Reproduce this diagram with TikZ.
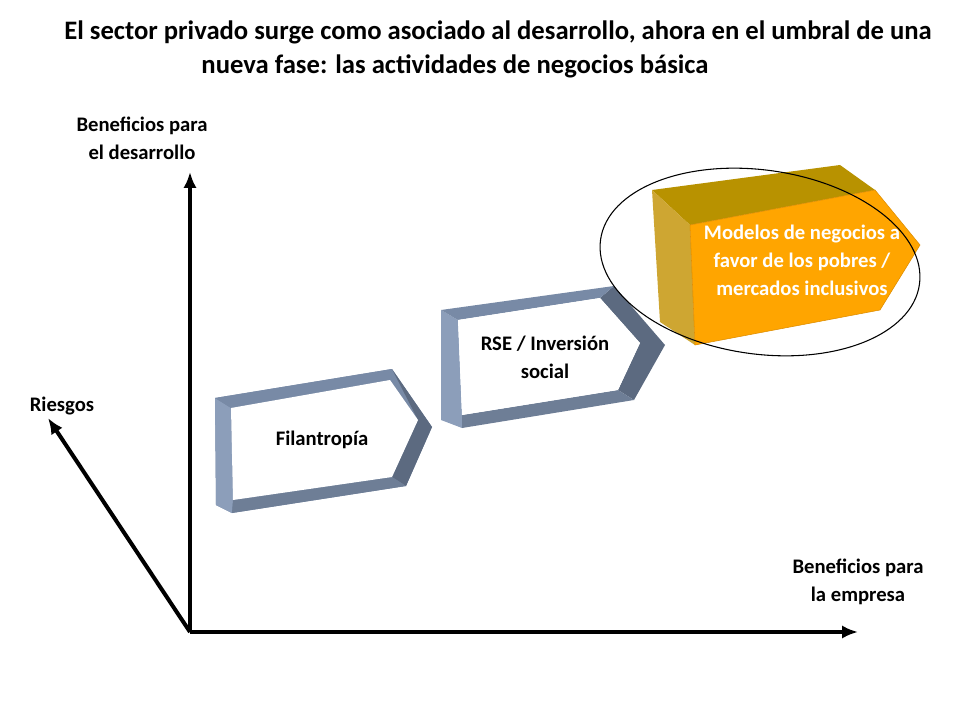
\documentclass[tikz,border=0pt]{standalone}
\usepackage{fontspec}
\setmainfont{Carlito}
\begin{document}
\begin{tikzpicture}[x=0.75pt,y=-0.75pt,
  lbl/.style={font=\bfseries\fontsize{15.5}{21}\selectfont,align=center},
  ttl/.style={font=\bfseries\fontsize{20}{24}\selectfont},
  ax/.style={line width=3pt,-{Latex[length=12pt,width=10pt]}}]
\usetikzlibrary{arrows.meta}
\useasboundingbox (0,0) rectangle (960,720);
\node[ttl] (t1) at (498,32) {El sector privado surge como asociado al desarrollo, ahora en el umbral de una};
\node[ttl] (t2) at (455,66) {nueva fase: las actividades de negocios básica};
% axes
\coordinate (o) at (190,632);
\coordinate (yt) at (190,172);
\coordinate (xt) at (858,632);
\coordinate (rt) at (48,418);
\draw[ax] (o) -- (yt);
\draw[ax] (o) -- (xt);
\draw[ax] (o) -- (rt);
\node[lbl] (ly) at (142,138) {Beneficios para\\el desarrollo};
\node[lbl] (lx) at (858,582) {Beneficios para\\la empresa};
\node[lbl] (lr) at (62,406) {Riesgos};
% Filantropia
\fill[color={rgb,255:red,120;green,138;blue,166}] (215,398)--(392,369)--(432,427)--(406,486)--(232,513)--(216,505)--cycle;
\fill[color={rgb,255:red,92;green,106;blue,128}] (392,369)--(432,427)--(406,486)--(392,477)--(418,420)--cycle;
\fill[color={rgb,255:red,140;green,158;blue,186}] (215,398)--(231,408)--(233,500)--(232,513)--(216,505)--cycle;
\fill[color={rgb,255:red,120;green,138;blue,166}] (215,398)--(392,369)--(390,380)--(231,408)--cycle;
\fill[color={rgb,255:red,110;green,126;blue,150}] (233,500)--(392,477)--(406,486)--(232,513)--cycle;
\fill[white] (231,408)--(390,380)--(418,420)--(392,477)--(233,500)--cycle;
\node[lbl] (f) at (322,440) {Filantropía};
% RSE
\fill[color={rgb,255:red,92;green,106;blue,128}] (614,286)--(665,345)--(634,400)--(618,390)--(640,343)--(600,298)--cycle;
\fill[color={rgb,255:red,140;green,158;blue,186}] (441,310)--(458,320)--(462,415)--(462,428)--(441,420)--cycle;
\fill[color={rgb,255:red,120;green,138;blue,166}] (441,310)--(614,286)--(600,298)--(458,320)--cycle;
\fill[color={rgb,255:red,110;green,126;blue,150}] (462,415)--(618,390)--(634,400)--(462,428)--cycle;
\fill[white] (458,320)--(600,298)--(640,343)--(618,390)--(462,415)--cycle;
\node[lbl] (r) at (545,357) {RSE / Inversión\\social};
% Orange
\fill[color={rgb,255:red,184;green,146;blue,0}] (652,190)--(840,165)--(875,190)--(690,225)--cycle;
\fill[color={rgb,255:red,206;green,166;blue,50}] (652,190)--(690,225)--(695,345)--(660,322)--cycle;
\fill[color={rgb,255:red,255;green,165;blue,0},draw={rgb,255:red,220;green,140;blue,0}] (690,225)--(875,190)--(920,245)--(880,310)--(695,345)--cycle;
\node[lbl,text=white] (m) at (802,260) {Modelos de negocios a\\favor de los pobres /\\mercados inclusivos};
\draw[thick] (760,262) ellipse[x radius=161, y radius=92, rotate=-8];
\end{tikzpicture}
\end{document}
